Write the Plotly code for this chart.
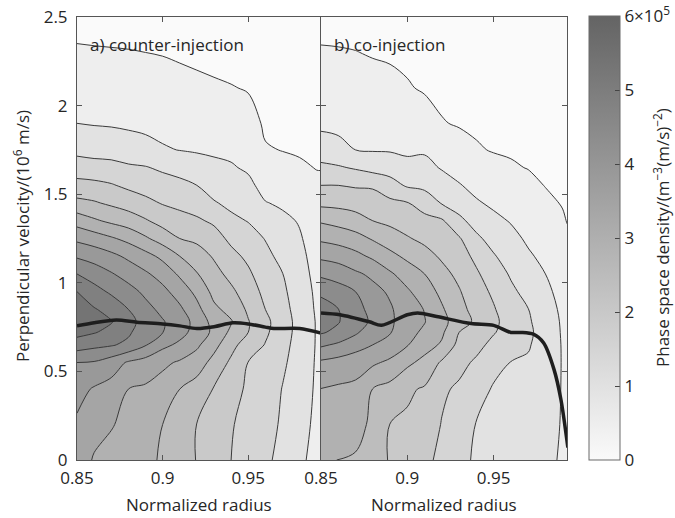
import plotly.graph_objects as go

# ---------------- data (density in units of 1e5 (m^-3 (m/s)^-2)) ----------------
radius = [0.85, 0.86, 0.87, 0.88, 0.89, 0.90, 0.91, 0.92, 0.93, 0.94,
          0.95, 0.96, 0.97, 0.98, 0.99, 0.9925]
velocity = [0, 0.2, 0.4, 0.55, 0.65, 0.72, 0.78, 0.85, 0.95, 1.05, 1.15,
            1.25, 1.35, 1.45, 1.55, 1.65, 1.75, 1.9, 2.1, 2.3, 2.5]

# a) counter-injection: one list per radius column (bottom -> top in velocity)
density_a_cols = [
    [3.8, 3.92, 4.17, 4.5, 5.25, 5.66, 5.9, 5.74, 5.5, 5.0, 4.44, 3.89, 3.29, 2.63, 2.17, 1.73, 1.375, 1.0, 0.77, 0.55, 0.35],
    [3.45, 3.69, 3.95, 4.46, 5.13, 5.53, 5.72, 5.54, 5.18, 4.77, 4.3, 3.75, 3.07, 2.55, 2.13, 1.68, 1.33, 0.97, 0.76, 0.54, 0.33],
    [3.35, 3.53, 3.81, 4.25, 5.05, 5.36, 5.53, 5.33, 4.92, 4.54, 4.13, 3.56, 2.9, 2.42, 2.04, 1.65, 1.31, 0.95, 0.74, 0.53, 0.32],
    [3.25, 3.38, 3.5, 3.94, 4.88, 5.08, 5.17, 5.0, 4.67, 4.31, 3.9, 3.36, 2.75, 2.29, 1.9, 1.57, 1.23, 0.92, 0.72, 0.52, 0.30],
    [3.1, 3.27, 3.43, 3.79, 4.54, 4.68, 4.8, 4.65, 4.4, 4.07, 3.67, 3.07, 2.55, 2.12, 1.81, 1.53, 1.15, 0.89, 0.70, 0.5, 0.28],
    [2.95, 3.0, 3.29, 3.6, 4.13, 4.51, 4.54, 4.38, 4.13, 3.81, 3.38, 2.78, 2.32, 1.97, 1.71, 1.42, 1.04, 0.87, 0.67, 0.48, 0.27],
    [2.75, 2.88, 3.0, 3.44, 3.9, 4.17, 4.25, 4.09, 3.79, 3.42, 3.0, 2.5, 2.17, 1.88, 1.63, 1.32, 0.99, 0.84, 0.64, 0.44, 0.25],
    [2.48, 2.49, 2.78, 3.25, 3.59, 3.81, 3.83, 3.65, 3.37, 3.03, 2.72, 2.4, 2.07, 1.78, 1.5, 1.19, 0.96, 0.81, 0.6, 0.4, 0.23],
    [2.25, 2.36, 2.47, 2.83, 3.16, 3.39, 3.32, 3.1, 2.86, 2.66, 2.45, 2.2, 1.92, 1.54, 1.3, 1.09, 0.94, 0.78, 0.56, 0.36, 0.22],
    [2.0, 2.03, 2.14, 2.41, 2.66, 2.89, 3.04, 2.85, 2.6, 2.36, 2.14, 1.89, 1.61, 1.39, 1.21, 1.04, 0.91, 0.74, 0.52, 0.33, 0.2],
    [1.8, 1.87, 1.94, 1.99, 2.25, 2.5, 2.53, 2.42, 2.25, 2.08, 1.9, 1.69, 1.48, 1.29, 1.1, 0.94, 0.83, 0.67, 0.47, 0.33, 0.2],
    [1.6, 1.72, 1.83, 1.92, 1.98, 2.07, 2.1, 2.0, 1.87, 1.74, 1.62, 1.48, 1.25, 1.02, 0.85, 0.69, 0.53, 0.44, 0.36, 0.27, 0.18],
    [1.35, 1.42, 1.48, 1.6, 1.69, 1.76, 1.78, 1.71, 1.61, 1.51, 1.37, 1.23, 1.09, 0.94, 0.77, 0.61, 0.49, 0.42, 0.34, 0.25, 0.17],
    [1.05, 1.12, 1.18, 1.23, 1.27, 1.3, 1.3, 1.25, 1.2, 1.14, 1.09, 1.04, 0.97, 0.83, 0.69, 0.54, 0.47, 0.41, 0.33, 0.24, 0.16],
    [0.92, 0.93, 0.95, 0.96, 0.97, 0.97, 0.97, 0.95, 0.93, 0.9, 0.87, 0.81, 0.73, 0.65, 0.56, 0.49, 0.46, 0.41, 0.33, 0.24, 0.15],
    [0.85, 0.86, 0.87, 0.87, 0.88, 0.88, 0.88, 0.86, 0.84, 0.81, 0.78, 0.74, 0.69, 0.63, 0.55, 0.49, 0.46, 0.4, 0.32, 0.23, 0.14],
]

# b) co-injection: one list per radius column (bottom -> top in velocity)
density_b_cols = [
    [3.2, 3.34, 3.49, 3.91, 4.58, 5.05, 5.2, 5.22, 4.9, 4.4, 3.9, 3.41, 2.94, 2.38, 2.0, 1.62, 1.21, 0.91, 0.72, 0.54, 0.35],
    [2.98, 3.2, 3.43, 3.82, 4.42, 4.88, 5.03, 5.01, 4.7, 4.3, 3.8, 3.32, 2.83, 2.36, 2.0, 1.55, 1.14, 0.88, 0.71, 0.53, 0.34],
    [2.95, 3.17, 3.39, 3.71, 4.21, 4.57, 4.7, 4.67, 4.5, 4.08, 3.64, 3.18, 2.7, 2.3, 1.95, 1.45, 1.0, 0.87, 0.69, 0.51, 0.33],
    [2.8, 2.9, 2.99, 3.58, 4.0, 4.22, 4.42, 4.34, 4.15, 3.9, 3.41, 2.95, 2.5, 2.22, 1.94, 1.32, 0.97, 0.83, 0.65, 0.47, 0.31],
    [2.45, 2.49, 2.84, 3.4, 3.83, 4.03, 4.08, 4.06, 3.93, 3.57, 3.14, 2.73, 2.39, 2.11, 1.69, 1.29, 0.96, 0.81, 0.6, 0.45, 0.3],
    [2.35, 2.43, 2.57, 3.1, 3.53, 3.65, 3.75, 3.74, 3.57, 3.27, 2.89, 2.54, 2.28, 2.03, 1.44, 1.12, 0.93, 0.76, 0.53, 0.42, 0.28],
    [2.05, 2.25, 2.45, 2.86, 3.19, 3.41, 3.52, 3.48, 3.24, 3.0, 2.67, 2.39, 2.17, 1.75, 1.4, 1.15, 0.94, 0.68, 0.46, 0.37, 0.26],
    [1.95, 1.98, 2.07, 2.43, 2.94, 3.08, 3.15, 3.06, 2.88, 2.65, 2.43, 2.24, 2.06, 1.47, 1.24, 0.96, 0.87, 0.52, 0.42, 0.34, 0.24],
    [1.6, 1.76, 1.93, 2.13, 2.35, 2.5, 2.75, 2.66, 2.54, 2.38, 2.22, 2.05, 1.61, 1.29, 1.03, 0.83, 0.65, 0.47, 0.4, 0.32, 0.22],
    [1.45, 1.48, 1.67, 1.93, 2.13, 2.27, 2.4, 2.32, 2.19, 2.07, 1.88, 1.59, 1.32, 1.05, 0.87, 0.7, 0.53, 0.45, 0.39, 0.3, 0.2],
    [1.3, 1.38, 1.46, 1.63, 1.88, 2.03, 2.1, 2.04, 1.92, 1.73, 1.54, 1.33, 1.11, 0.92, 0.76, 0.6, 0.48, 0.43, 0.37, 0.28, 0.19],
    [1.2, 1.31, 1.41, 1.49, 1.67, 1.81, 1.8, 1.72, 1.59, 1.45, 1.29, 1.13, 0.97, 0.82, 0.68, 0.53, 0.47, 0.41, 0.35, 0.27, 0.18],
    [1.12, 1.24, 1.37, 1.46, 1.53, 1.59, 1.56, 1.51, 1.36, 1.21, 1.06, 0.93, 0.81, 0.7, 0.58, 0.49, 0.46, 0.42, 0.35, 0.26, 0.17],
    [1.06, 1.15, 1.24, 1.3, 1.35, 1.3, 1.26, 1.18, 1.09, 1.0, 0.89, 0.78, 0.67, 0.57, 0.49, 0.47, 0.44, 0.4, 0.34, 0.25, 0.16],
    [0.97, 0.97, 0.97, 0.97, 0.96, 0.95, 0.94, 0.92, 0.87, 0.8, 0.72, 0.63, 0.54, 0.48, 0.47, 0.45, 0.43, 0.39, 0.33, 0.24, 0.15],
    [0.94, 0.94, 0.94, 0.93, 0.92, 0.9, 0.87, 0.83, 0.76, 0.69, 0.62, 0.55, 0.49, 0.47, 0.45, 0.43, 0.41, 0.38, 0.32, 0.23, 0.14],
]

# velocity of maximum density (thick line)
ridge_a_r = [0.85, 0.86, 0.873, 0.885, 0.90, 0.91, 0.92, 0.93, 0.941, 0.95, 0.96, 0.965, 0.98, 0.9925]
ridge_a_v = [0.757, 0.775, 0.79, 0.778, 0.768, 0.757, 0.742, 0.752, 0.774, 0.768, 0.75, 0.742, 0.742, 0.717]
ridge_b_r = [0.85, 0.861, 0.878, 0.885, 0.90, 0.906, 0.917, 0.937, 0.95, 0.96, 0.966, 0.973, 0.979, 0.985, 0.989, 0.993]
ridge_b_v = [0.83, 0.82, 0.78, 0.76, 0.82, 0.83, 0.81, 0.77, 0.76, 0.72, 0.72, 0.71, 0.66, 0.51, 0.34, 0.07]

contour_levels = dict(start=0.5, end=5.5, size=0.5)
x_ticks = [0.85, 0.9, 0.95]
x_labels = ["0.85", "0.9", "0.95"]
y_ticks = [0, 0.5, 1, 1.5, 2, 2.5]
y_labels = ["0", "0.5", "1", "1.5", "2", "2.5"]
cbar_ticks = [0, 1, 2, 3, 4, 5, 6]
cbar_labels = ["0", "1", "2", "3", "4", "5", "6×10<sup>5</sup>"]

# ---------------- figure ----------------
W, H = 675, 518
FONT = "Open Sans"
FS = 17
TXT = "#262626"
BAR_SCALE = [[0.0, "rgb(250,250,250)"], [1.0, "rgb(100,100,100)"]]
# bands coloured by their lower level on the 0..6 colour bar
FILL_SCALE = [[0.0, "rgb(250,250,250)"], [1.0, "rgb(116,116,116)"]]


def transpose(cols):
    return [list(row) for row in zip(*cols)]


fig = go.Figure()
for cols, xa, ya in [(density_a_cols, "x", "y"), (density_b_cols, "x2", "y2")]:
    fig.add_trace(go.Contour(
        x=radius, y=velocity, z=transpose(cols),
        xaxis=xa, yaxis=ya,
        colorscale=FILL_SCALE,
        contours=dict(coloring="fill", **contour_levels),
        line=dict(color="#3a3a3a", width=1, smoothing=1.0),
        showscale=False, hoverinfo="skip",
    ))

for rr, vv, xa, ya in [(ridge_a_r, ridge_a_v, "x", "y"), (ridge_b_r, ridge_b_v, "x2", "y2")]:
    fig.add_trace(go.Scatter(x=rr, y=vv, xaxis=xa, yaxis=ya, mode="lines",
                             line=dict(color="#1e1e1e", width=3.5, shape="spline", smoothing=0.8),
                             showlegend=False, hoverinfo="skip"))

# continuous colour bar
fig.add_trace(go.Scatter(
    x=[None], y=[None], mode="markers", showlegend=False, hoverinfo="skip",
    marker=dict(color=[0], colorscale=BAR_SCALE, cmin=0, cmax=6, showscale=True,
                colorbar=dict(
                    x=589 / W, xanchor="left", xref="paper", xpad=0, ypad=0,
                    y=(H - 460) / H, yanchor="bottom", len=444 / H, lenmode="fraction",
                    thickness=31, thicknessmode="pixels",
                    outlinecolor="#6a6a6a", outlinewidth=1,
                    tickvals=cbar_ticks, ticktext=cbar_labels,
                    ticks="inside", ticklen=5, tickcolor="#444",
                    tickfont=dict(family=FONT, size=FS, color=TXT),
                )),
))

y0, y1 = (H - 460) / H, (H - 17) / H
xa_dom = [77 / W, 321 / W]
xb_dom = [321 / W, 567 / W]
axis_common = dict(showline=True, linecolor="#555", linewidth=1, mirror="ticks",
                   ticks="inside", ticklen=5, tickcolor="#555",
                   tickfont=dict(family=FONT, size=FS, color=TXT),
                   showgrid=False, zeroline=False)


def text(t, **kw):
    d = dict(text=t, showarrow=False, font=dict(family=FONT, size=FS, color=TXT))
    d.update(kw)
    return d


fig.update_layout(
    width=W, height=H,
    margin=dict(l=0, r=0, t=0, b=0, autoexpand=False),
    paper_bgcolor="white", plot_bgcolor="white", showlegend=False,
    xaxis=dict(domain=xa_dom, range=[0.85, 0.9925], tickvals=x_ticks, ticktext=x_labels,
               anchor="y", ticklabelstandoff=3, **axis_common),
    yaxis=dict(domain=[y0, y1], range=[0, 2.5], tickvals=y_ticks, ticktext=y_labels,
               anchor="x", ticklabelstandoff=5, **axis_common),
    xaxis2=dict(domain=xb_dom, range=[0.85, 0.9925], tickvals=x_ticks, ticktext=x_labels,
                anchor="y2", ticklabelstandoff=3, **axis_common),
    yaxis2=dict(domain=[y0, y1], range=[0, 2.5], tickvals=y_ticks, showticklabels=False,
                anchor="x2", **axis_common),
    annotations=[
        text("a) counter-injection", xref="x domain", yref="y domain", x=0.045, y=0.937,
             xanchor="left", yanchor="middle"),
        text("b) co-injection", xref="x2 domain", yref="y2 domain", x=0.045, y=0.937,
             xanchor="left", yanchor="middle"),
        text("Normalized radius", xref="x domain", yref="paper", x=0.5, y=(H - 504) / H,
             xanchor="center", yanchor="middle"),
        text("Normalized radius", xref="x2 domain", yref="paper", x=0.5, y=(H - 504) / H,
             xanchor="center", yanchor="middle"),
        text("Perpendicular velocity/(10<sup>6</sup> m/s)", xref="paper", yref="paper",
             x=21 / W, y=(H - 236) / H, textangle=-90, xanchor="center", yanchor="middle"),
        text("Phase space density/(m<sup>−3</sup>(m/s)<sup>−2</sup>)", xref="paper", yref="paper",
             x=662 / W, y=(H - 238) / H, textangle=-90, xanchor="center", yanchor="middle"),
    ],
)

fig.write_html("out.html")
